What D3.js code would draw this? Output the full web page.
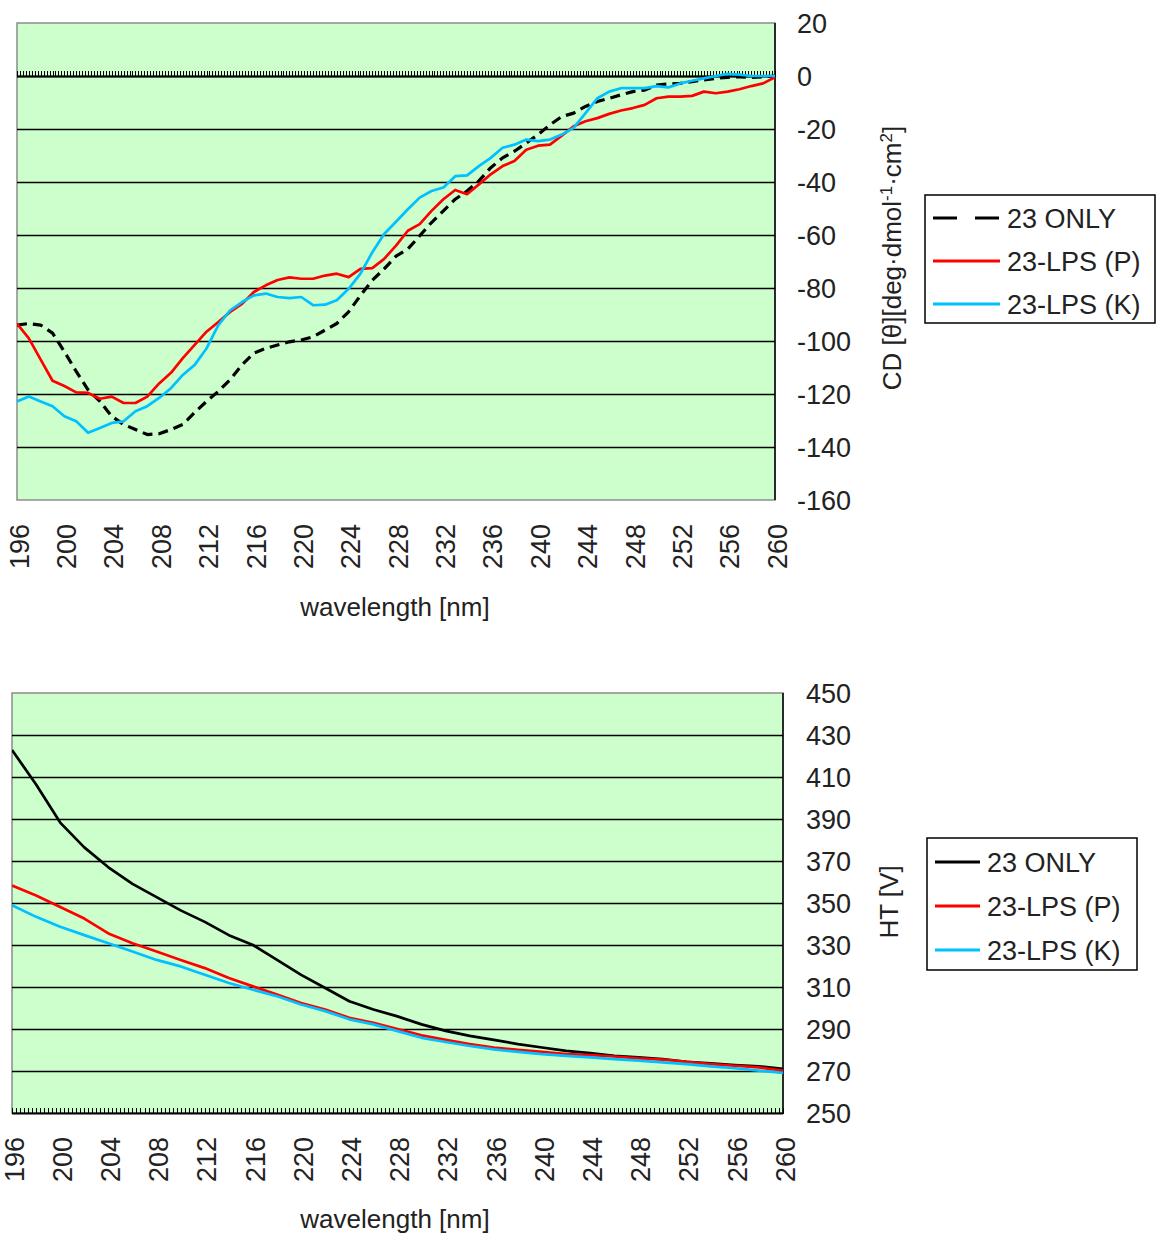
<!DOCTYPE html>
<html>
<head>
<meta charset="utf-8">
<script src="https://cdn.jsdelivr.net/npm/d3@7"></script>
<style>
  body { margin: 0; background: #fff; }
  text { font-family: "Liberation Sans", Arial, sans-serif; fill: #222; }
</style>
</head>
<body>
<div id="chart"></div>
<script>
// ---- data ----
// CD spectrum, 1 nm steps
var cdWave = [196,197,198,199,200,201,202,203,204,205,206,207,208,209,210,211,212,213,214,215,
  216,217,218,219,220,221,222,223,224,225,226,227,228,229,230,231,232,233,234,235,236,237,238,239,
  240,241,242,243,244,245,246,247,248,249,250,251,252,253,254,255,256,257,258,259,260];
var cdOnly = [-94,-93.4,-94,-97,-104,-111.5,-118.4,-122.8,-128.4,-131.5,-133.4,-135.3,-135,-133.4,-131.5,-127,
  -122.8,-119,-114.6,-109,-104.6,-102.8,-101.5,-100.3,-99.6,-98.4,-95.9,-93.4,-89,-82.8,-77.1,-72.8,
  -68,-65.3,-60.3,-55.3,-50.9,-46.5,-43.4,-39.6,-34.6,-30.9,-28.4,-25.3,-22.1,-18.4,-15.3,-14,
  -11.5,-9.6,-8.4,-7.1,-5.9,-5.3,-3.4,-3,-2.8,-2.1,-1.5,-0.9,-0.5,-0.3,-0.5,-0.3,0];
var cdLpsP = [-93.4,-99,-107,-115,-117,-119.4,-119.6,-121.8,-121,-123.4,-123.4,-121,-116,-112,-106.5,-101.5,
  -96.5,-92.8,-89,-86,-81.5,-79,-77,-76,-76.5,-76.5,-75.3,-74.6,-75.9,-72.8,-72.5,-69,
  -64,-58.4,-55.9,-50.9,-46.5,-43,-44.6,-40.9,-37.1,-34,-32.1,-27.8,-26.3,-25.9,-22.5,-19,
  -17.1,-15.9,-14.3,-13,-12.1,-10.9,-8.4,-7.8,-7.8,-7.5,-5.9,-6.5,-5.9,-5,-3.8,-2.8,-0.5];
var cdLpsK = [-122.8,-120.9,-122.8,-124.6,-128.4,-130.3,-134.6,-132.8,-130.9,-130.3,-126.5,-124.6,-121.5,-117.8,-112.8,-109,
  -102.8,-94,-88.4,-85.3,-82.8,-82.1,-83.4,-83.8,-83.4,-86.5,-86.3,-84.6,-80.3,-74.6,-66.5,-59.6,
  -55,-50.3,-45.9,-43.4,-42.1,-37.8,-37.5,-34,-30.9,-27.1,-25.9,-24,-24.6,-24,-22.1,-19.6,
  -14,-8.4,-5.9,-4.6,-4.6,-4.6,-3.8,-4.3,-2.8,-1.8,-0.9,0,0.8,0.5,0,0,0];

// HT voltage, 2 nm steps
var htWave = [196,198,200,202,204,206,208,210,212,214,216,218,220,222,224,226,228,
  230,232,234,236,238,240,242,244,246,248,250,252,254,256,258,260];
var htOnly = [422.9,406.4,388.3,376.5,367,359.1,352.8,346.5,341,334.7,330,322.9,315.8,309.5,303.2,299.3,296,
  292.2,289.1,286.7,284.8,282.8,281.2,279.6,278.5,277.2,276.5,275.7,274.4,273.6,272.8,272.2,271];
var htLpsP = [358.3,353.6,348.1,342.6,335.5,330.8,326.9,322.9,319,314.3,310.3,306.4,302.4,299.3,295.3,293,290,
  287,284.8,282.8,281.2,280.1,279.1,278,277.6,276.9,276,275.4,274.4,273.3,272.5,271.7,270.2];
var htLpsK = [348.9,343.4,338.7,334.7,330.8,326.9,322.9,319.8,315.8,311.9,308.7,305.6,301.7,298.5,294.6,292.2,289,
  285.8,283.8,281.9,280.3,279.1,278,277.2,276.5,275.7,274.9,274.1,273.3,272.2,271.3,270.2,269.1];

var seriesNames = ["23 ONLY", "23-LPS (P)", "23-LPS (K)"];
var xLabels = [196,200,204,208,212,216,220,224,228,232,236,240,244,248,252,256,260];
var cdTicks = [20,0,-20,-40,-60,-80,-100,-120,-140,-160];
var htTicks = [450,430,410,390,370,350,330,310,290,270,250];

var colors = ["#000000", "#ff0000", "#00c0ff"];

var svg = d3.select("#chart").append("svg")
    .attr("width", 1156)
    .attr("height", 1233);

function drawPanel(p) {
  var x = d3.scaleLinear().domain([196, 260]).range([p.left, p.right]);
  var y = d3.scaleLinear().domain(p.yDomain).range([p.bottom, p.top]);
  var g = svg.append("g");

  // plot area
  g.append("rect")
    .attr("x", p.left).attr("y", p.top)
    .attr("width", p.right - p.left).attr("height", p.bottom - p.top)
    .attr("fill", "#ccffcc")
    .attr("stroke", "#8c8c8c")
    .attr("stroke-width", 1.5);

  // gridlines
  g.selectAll(".grid")
    .data(p.yTicks.filter(function (d) { return d !== p.yDomain[0] && d !== p.yDomain[1]; }))
    .enter().append("line")
      .attr("x1", p.left).attr("x2", p.right)
      .attr("y1", function (d) { return Math.round(y(d)) + 0.5; })
      .attr("y2", function (d) { return Math.round(y(d)) + 0.5; })
      .attr("stroke", "#000")
      .attr("stroke-width", 1.6);

  // right value axis
  g.append("line")
    .attr("x1", p.right).attr("x2", p.right)
    .attr("y1", p.top).attr("y2", p.bottom)
    .attr("stroke", "#000").attr("stroke-width", 1.5);

  g.selectAll(".ylab")
    .data(p.yTicks)
    .enter().append("text")
      .attr("x", p.right + p.labelGap)
      .attr("y", function (d) { return y(d); })
      .attr("dy", "0.36em")
      .style("font-size", "27px")
      .text(function (d) { return d; });

  // category axis with minor tick comb
  var axisY = Math.round(y(p.axisAt)) + 0.5;
  g.append("line")
    .attr("x1", p.left).attr("x2", p.right)
    .attr("y1", axisY).attr("y2", axisY)
    .attr("stroke", "#000").attr("stroke-width", 1.8);
  var nTicks = Math.round(64 / p.tickStep);
  g.selectAll(".tick")
    .data(d3.range(nTicks + 1))
    .enter().append("line")
      .attr("x1", function (i) { return Math.round(x(196 + i * p.tickStep)) + 0.5; })
      .attr("x2", function (i) { return Math.round(x(196 + i * p.tickStep)) + 0.5; })
      .attr("y1", axisY).attr("y2", axisY - 6)
      .attr("shape-rendering", "crispEdges")
      .attr("stroke", "#000").attr("stroke-width", 1);

  g.selectAll(".xlab")
    .data(xLabels)
    .enter().append("text")
      .attr("transform", function (d) {
        return "translate(" + (x(d) + 2) + "," + p.xLabelTop + ") rotate(-90)";
      })
      .attr("text-anchor", "end")
      .attr("dy", "0.36em")
      .style("font-size", "27px")
      .text(function (d) { return d; });

  g.append("text")
    .attr("x", 395).attr("y", p.xTitleY)
    .attr("text-anchor", "middle")
    .style("font-size", "26px")
    .text("wavelength [nm]");

  // series
  var clip = "clip" + p.id;
  svg.append("clipPath").attr("id", clip)
    .append("rect")
      .attr("x", p.left).attr("y", p.top)
      .attr("width", p.right - p.left).attr("height", p.bottom - p.top);

  p.series.forEach(function (vals, k) {
    var pts = vals.map(function (v, i) { return [p.wave[i], v]; });
    var dashed = k === 0 && p.dashed;
    g.append("path")
      .datum(pts)
      .attr("clip-path", "url(#" + clip + ")")
      .attr("fill", "none")
      .attr("stroke", colors[k])
      .attr("stroke-width", dashed ? 3.2 : 2.7)
      .attr("stroke-linejoin", "round")
      .attr("stroke-dasharray", dashed ? "10,6" : null)
      .attr("d", d3.line()
        .x(function (d) { return x(d[0]); })
        .y(function (d) { return y(d[1]); }));
  });

  // legend
  var L = p.legend;
  g.append("rect")
    .attr("x", L.x).attr("y", L.y)
    .attr("width", L.w).attr("height", L.h)
    .attr("fill", "#fff")
    .attr("stroke", "#000").attr("stroke-width", 1.5);
  seriesNames.forEach(function (name, k) {
    var cy = L.y + L.first + k * L.step;
    g.append("line")
      .attr("x1", L.x + 8).attr("x2", L.x + 8 + L.lineLen)
      .attr("y1", cy).attr("y2", cy)
      .attr("stroke", colors[k])
      .attr("stroke-width", 3)
      .attr("stroke-dasharray", k === 0 && p.dashed ? "24,18" : null);
    g.append("text")
      .attr("x", L.x + 8 + L.lineLen + 7)
      .attr("y", cy)
      .attr("dy", "0.36em")
      .style("font-size", "27px")
      .text(name);
  });
}

// top panel: CD
drawPanel({
  id: "cd",
  left: 17, right: 775, top: 23, bottom: 500,
  yDomain: [-160, 20], yTicks: cdTicks, axisAt: 0,
  labelGap: 22, tickStep: 0.25, dashed: true,
  xLabelTop: 524, xTitleY: 616,
  wave: cdWave, series: [cdOnly, cdLpsP, cdLpsK],
  legend: { x: 925, y: 195, w: 230, h: 128, first: 23, step: 43, lineLen: 67 }
});

// y title top (with superscripts)
var t1 = svg.append("text")
  .attr("transform", "translate(901,258) rotate(-90)")
  .attr("text-anchor", "middle")
  .style("font-size", "26px");
t1.append("tspan").text("CD [θ][deg·dmol");
t1.append("tspan").attr("baseline-shift", "super").style("font-size", "17px").text("-1");
t1.append("tspan").text("·cm");
t1.append("tspan").attr("baseline-shift", "super").style("font-size", "17px").text("2");
t1.append("tspan").text("]");

// bottom panel: HT
drawPanel({
  id: "ht",
  left: 12, right: 783, top: 693, bottom: 1113,
  yDomain: [250, 450], yTicks: htTicks, axisAt: 250,
  labelGap: 23, tickStep: 1 / 3, dashed: false,
  xLabelTop: 1137, xTitleY: 1228,
  wave: htWave, series: [htOnly, htLpsP, htLpsK],
  legend: { x: 927, y: 838, w: 210, h: 132, first: 24, step: 44, lineLen: 45 }
});

svg.append("text")
  .attr("transform", "translate(898,902) rotate(-90)")
  .attr("text-anchor", "middle")
  .style("font-size", "26px")
  .text("HT [V]");
</script>
</body>
</html>
